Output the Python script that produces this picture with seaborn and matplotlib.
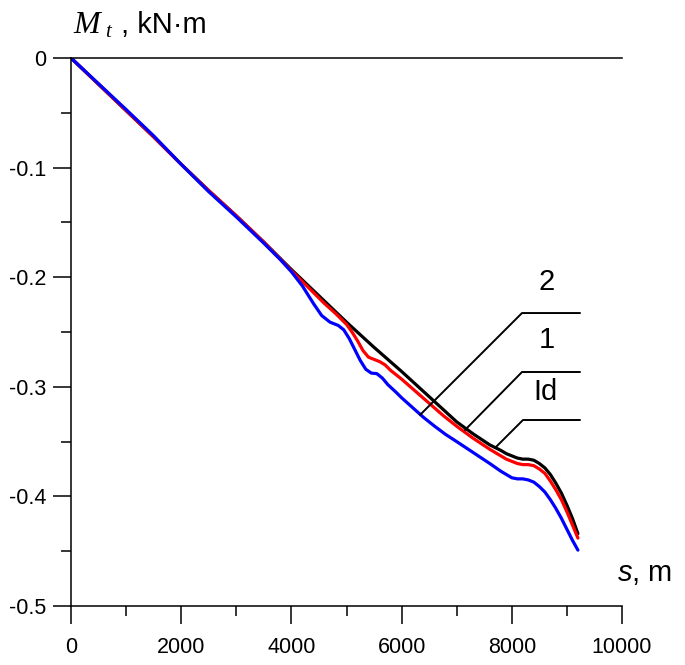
import matplotlib
matplotlib.use("Agg")
import matplotlib.pyplot as plt
import seaborn as sns
from matplotlib.ticker import MultipleLocator

# Path coordinate s (m) and torque Mt (kN·m)
s_black = [0, 500, 1000, 1500, 2000, 2500, 3000, 3500, 4000, 4500, 5000, 5500,
           6000, 6500, 7000, 7300, 7600, 7800, 7900, 8000, 8100, 8200, 8300,
           8400, 8500, 8600, 8700, 8800, 8900, 9000, 9100, 9200]
m_black = [0, -0.024, -0.048, -0.072, -0.097, -0.121, -0.144, -0.168, -0.193,
           -0.217, -0.241, -0.264, -0.286, -0.309, -0.332, -0.343, -0.353,
           -0.358, -0.361, -0.363, -0.365, -0.366, -0.366, -0.367, -0.370,
           -0.374, -0.380, -0.388, -0.397, -0.408, -0.420, -0.434]

s_red = [0, 500, 1000, 1500, 2000, 2500, 3000, 3500, 4000, 4200, 4400, 4600,
         4800, 5000, 5100, 5200, 5300, 5400, 5500, 5600, 5700, 5800, 6000, 6250,
         6500, 6750, 7000, 7300, 7600, 7800, 7900, 8000, 8100, 8200, 8300, 8400,
         8500, 8600, 8700, 8800, 8900, 9000, 9100, 9200]
m_red = [0, -0.024, -0.048, -0.072, -0.097, -0.121, -0.144, -0.168, -0.194,
         -0.204, -0.214, -0.224, -0.233, -0.243, -0.250, -0.258, -0.267, -0.273,
         -0.275, -0.277, -0.280, -0.285, -0.293, -0.304, -0.315, -0.326, -0.336,
         -0.347, -0.357, -0.363, -0.366, -0.368, -0.370, -0.371, -0.371, -0.372,
         -0.375, -0.379, -0.386, -0.394, -0.403, -0.414, -0.426, -0.438]

s_blue = [0, 500, 1000, 1500, 2000, 2500, 3000, 3500, 3800, 4000, 4200, 4400,
          4550, 4700, 4850, 4950, 5050, 5150, 5250, 5350, 5450, 5550, 5650, 5750,
          5900, 6000, 6200, 6400, 6600, 6800, 7000, 7300, 7600, 7800, 7900, 8000,
          8100, 8200, 8300, 8400, 8500, 8600, 8700, 8800, 8900, 9000, 9100, 9200]
m_blue = [0, -0.0235, -0.047, -0.071, -0.097, -0.122, -0.145, -0.169, -0.184,
          -0.195, -0.208, -0.224, -0.235, -0.241, -0.244, -0.248, -0.256, -0.266,
          -0.276, -0.284, -0.2875, -0.288, -0.292, -0.298, -0.305, -0.310, -0.319,
          -0.328, -0.336, -0.3435, -0.350, -0.360, -0.370, -0.377, -0.380, -0.383,
          -0.384, -0.384, -0.385, -0.387, -0.391, -0.396, -0.403, -0.411, -0.420,
          -0.430, -0.440, -0.449]

# curve labels (text baseline) and their leader lines, in data coordinates
labels = ["2", "1", "Id"]
label_pos = [(8639, -0.2117), (8639, -0.2646), (8603, -0.312)]
leader_s = [[6334, 8185, 9238], [7151, 8185, 9238], [7695, 8203, 9238]]
leader_m = [[-0.3257, -0.2327, -0.2327], [-0.3394, -0.2865, -0.2865],
            [-0.3558, -0.3303, -0.3303]]

sns.set_style("ticks")
plt.rcParams["font.family"] = ["Liberation Sans", "DejaVu Sans"]
plt.rcParams["mathtext.fontset"] = "custom"
plt.rcParams["mathtext.it"] = "Liberation Serif:italic"
plt.rcParams["mathtext.rm"] = "Liberation Serif"
plt.rcParams["mathtext.sf"] = "Liberation Sans:italic"

fig = plt.figure(figsize=(6.85, 6.65), dpi=100)
ax = fig.add_axes([71 / 685, 1 - 606 / 665, 551 / 685, 548 / 665])

sns.lineplot(x=s_black, y=m_black, color="black", lw=2.3, sort=False, ax=ax)
sns.lineplot(x=s_red, y=m_red, color="red", lw=2.3, sort=False, ax=ax)
sns.lineplot(x=s_blue, y=m_blue, color="blue", lw=2.3, sort=False, ax=ax)

for xs, ys in zip(leader_s, leader_m):
    ax.plot(xs, ys, color="black", lw=1.4)
for txt, (x, y) in zip(labels, label_pos):
    ax.text(x, y, txt, fontsize=21, ha="center", va="baseline", color="black")

ax.set_xlim(0, 10000)
ax.set_ylim(-0.5, 0)
ax.xaxis.set_major_locator(MultipleLocator(2000))
ax.xaxis.set_minor_locator(MultipleLocator(1000))
ax.yaxis.set_minor_locator(MultipleLocator(0.05))
ax.set_yticks([0, -0.1, -0.2, -0.3, -0.4, -0.5])
ax.set_yticklabels(["0", "-0.1", "-0.2", "-0.3", "-0.4", "-0.5"])
ax.tick_params(which="major", length=13, width=1.1, labelsize=15.5,
               direction="out", color="black", labelcolor="black")
ax.tick_params(which="minor", length=7, width=1.1, direction="out", color="black")
ax.tick_params(axis="x", which="major", pad=9)
ax.tick_params(axis="y", which="major", pad=5)

for side in ["left", "bottom", "top"]:
    ax.spines[side].set_linewidth(1.1)
    ax.spines[side].set_color("black")
ax.spines["right"].set_visible(False)
ax.set_xlabel("")
ax.set_ylabel("")

# axis titles
fig.text(73 / 685, 1 - 33 / 665, "M", family="Liberation Serif", style="italic",
         fontsize=23, va="baseline", ha="left", color="black")
fig.text(105 / 685, 1 - 37 / 665, "t", family="Liberation Serif", style="italic",
         fontsize=15, va="baseline", ha="left", color="black")
fig.text(121 / 685, 1 - 33 / 665, ", kN·m", fontsize=21, va="baseline", ha="left",
         color="black")
fig.text(617 / 685, 1 - 581 / 665, r"$\mathsf{s}$, m", fontsize=21, va="baseline",
         ha="left", color="black")

fig.savefig("out.png", dpi=100)
